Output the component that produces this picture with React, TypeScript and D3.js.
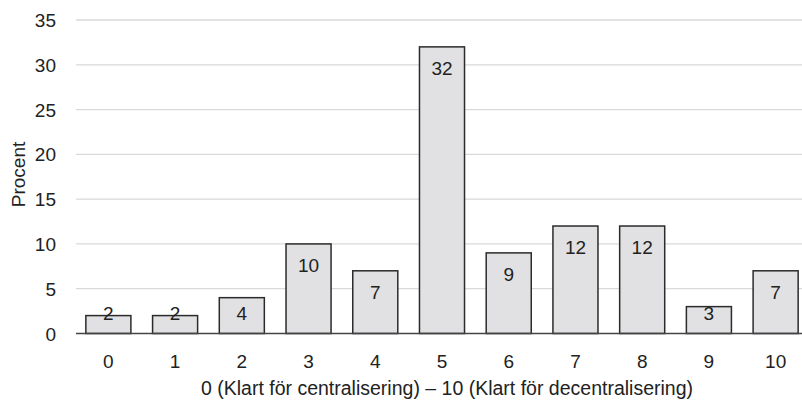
import React from "react";
import * as d3 from "d3";

const categories = ["0", "1", "2", "3", "4", "5", "6", "7", "8", "9", "10"];
const values = [2, 2, 4, 10, 7, 32, 9, 12, 12, 3, 7];
const yTicks = [0, 5, 10, 15, 20, 25, 30, 35];
const xTitle = "0 (Klart för centralisering) – 10 (Klart för decentralisering)";
const yTitle = "Procent";

const W = 802;
const H = 402;
const left = 75;
const right = 809;
const top = 20;
const bottom = 333.5;
const font = "'Liberation Sans', Arial, sans-serif";
const fs = 19;

export default function App() {
  const x = d3.scaleBand<string>().domain(categories).range([left, right]).paddingInner(0.325).paddingOuter(0.1625);
  const y = d3.scaleLinear().domain([0, 35]).range([bottom, top]);
  return (
    <div style={{ position: "absolute", left: 0, top: 0 }}>
      <svg width={W} height={H} style={{ display: "block" }} fontFamily={font}>
        {yTicks.map((t) => (
          <g key={t}>
            {t !== 0 && (
              <line x1={left + 1} x2={right} y1={y(t)} y2={y(t)} stroke="#d9d9d9" strokeWidth={1.3} />
            )}
            <text x={56} y={y(t) + 7} textAnchor="end" fontSize={fs} fill="#222">
              {t}
            </text>
          </g>
        ))}
        {values.map((v, i) => {
          const c = categories[i];
          const bx = x(c)!;
          const by = y(v);
          const ly = Math.min(by + 28, 320);
          return (
            <g key={c}>
              <rect x={bx} y={by} width={x.bandwidth()} height={bottom - by} fill="#e1e1e3" stroke="#2b2b2b" strokeWidth={1.5} />
              <text x={bx + x.bandwidth() / 2} y={ly} textAnchor="middle" fontSize={fs} fill="#222">
                {v}
              </text>
              <text x={bx + x.bandwidth() / 2} y={368} textAnchor="middle" fontSize={fs} fill="#222">
                {c}
              </text>
            </g>
          );
        })}
        <line x1={left + 1} x2={right} y1={bottom} y2={bottom} stroke="#444" strokeWidth={1.5} />
        <text x={447} y={395} textAnchor="middle" fontSize={19.5} fill="#222">
          {xTitle}
        </text>
        <text transform={`translate(25,174.5) rotate(-90)`} textAnchor="middle" fontSize={fs} fill="#222">
          {yTitle}
        </text>
      </svg>
    </div>
  );
}
